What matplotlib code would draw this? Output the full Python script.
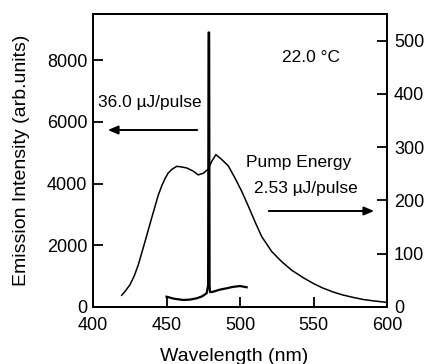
import matplotlib
matplotlib.use("Agg")
import matplotlib.pyplot as plt
from matplotlib.patches import FancyArrowPatch

plt.rcParams['font.family'] = ['Liberation Sans', 'DejaVu Sans']

# spectrum at 2.53 uJ/pulse (right axis)
wl_low = [419.5, 422, 425.2, 428, 430.8, 435.4, 439.9, 444.4, 447, 449, 451,
          453.5, 456.9, 460, 463.7, 468.2, 471.6, 475, 478.4, 480.7, 483.6,
          487.5, 492, 496.6, 501.2, 505.7, 510.2, 514.8, 521.6, 528.4, 535.2,
          543, 550, 556, 563.5, 570, 577, 584, 590.7, 599]
int_low = [22, 30, 42, 58, 79, 123, 167, 210, 229, 241, 251,
           258, 264, 263, 261, 255, 248, 251, 259, 273, 286,
           277, 265, 242, 217, 189, 160, 132, 104, 85, 69,
           55, 44, 36, 28, 22.5, 18, 14, 11.5, 9]

# spectrum at 36.0 uJ/pulse (left axis)
wl_high = [450, 455, 461.4, 466, 470.5, 474, 477.3, 478.3, 478.6, 479.0, 479.3,
           479.6, 481.8, 486, 490.9, 495, 500, 504.5]
int_high = [334, 270, 227, 240, 282, 340, 444, 700, 8900, 8900, 700,
            480, 496, 560, 606, 650, 680, 640]

fig = plt.figure(figsize=(4.3, 3.64), dpi=100)
ax = fig.add_axes([0.2163, 0.1566, 0.6837, 0.805])
ax2 = ax.twinx()

ax.plot(wl_high, int_high, color='black', lw=1.6)
ax2.plot(wl_low, int_low, color='black', lw=1.1)

ax.set_xlim(400, 600)
ax.set_ylim(0, 9500)
ax2.set_ylim(0, 550)

ax.set_xticks([400, 450, 500, 550, 600])
ax.set_yticks([0, 2000, 4000, 6000, 8000])
ax2.set_yticks([0, 100, 200, 300, 400, 500])

for a in (ax, ax2):
    for s in a.spines.values():
        s.set_linewidth(1.4)
ax.tick_params(axis='both', direction='in', length=7, width=1.3, labelsize=13)
ax.tick_params(axis='x', pad=7)
ax.tick_params(axis='y', pad=4)
ax2.tick_params(axis='y', direction='in', length=7, width=1.3, labelsize=13, pad=5)

ax.set_xlabel('Wavelength (nm)', fontsize=14)
ax.set_ylabel('Emission Intensity (arb.units)', fontsize=14)
ax.xaxis.set_label_coords(0.48, -0.14)
ax.yaxis.set_label_coords(-0.215, 0.5)

fig.text(311 / 430, 1 - 58 / 364, '22.0 \u00b0C', fontsize=12.5, ha='center', va='center')
fig.text(299 / 430, 1 - 163 / 364, 'Pump Energy', fontsize=12.5, ha='center', va='center')
fig.text(306 / 430, 1 - 188 / 364, '2.53 \u00b5J/pulse', fontsize=12.5, ha='center', va='center')
fig.text(98 / 430, 1 - 102 / 364, '36.0 \u00b5J/pulse', fontsize=12.5, ha='left', va='center')

fig.patches.append(FancyArrowPatch(
    (200 / 430, 1 - 130 / 364), (105 / 430, 1 - 130 / 364), transform=fig.transFigure,
    arrowstyle='-|>,head_length=6,head_width=2.5', color='black', lw=1.4))
fig.patches.append(FancyArrowPatch(
    (266 / 430, 1 - 211 / 364), (377 / 430, 1 - 211 / 364), transform=fig.transFigure,
    arrowstyle='-|>,head_length=6,head_width=2.5', color='black', lw=1.4))

fig.savefig('out.png', dpi=100)
